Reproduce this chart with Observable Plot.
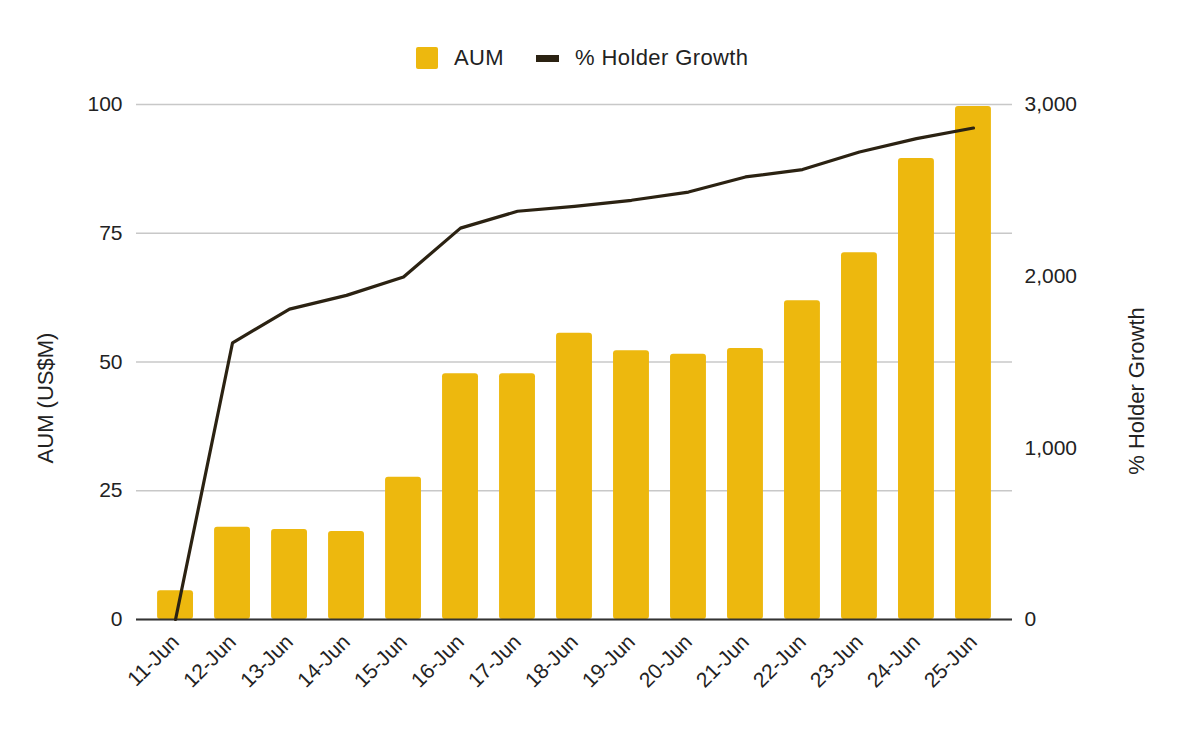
<!DOCTYPE html>
<html>
<head>
<meta charset="utf-8">
<script src="https://cdn.jsdelivr.net/npm/d3@7"></script>
<script src="https://cdn.jsdelivr.net/npm/@observablehq/plot@0.6"></script>
<style>
  html, body { margin: 0; padding: 0; background: #fff; }
  body { width: 1200px; height: 730px; overflow: hidden; font-family: "Liberation Sans", Arial, sans-serif; color: #222; }
  #legend { position: relative; height: 85px; }
  #legend .item { position: absolute; top: 45px; display: flex; align-items: center; font-size: 22px; letter-spacing: 0.4px; height: 26px; }
  #legend .sw-bar { width: 22px; height: 22px; border-radius: 2px; margin-right: 16px; }
  #legend .sw-line { width: 23px; height: 7px; margin-right: 16px; }
</style>
</head>
<body>
<div id="legend"></div>
<div id="chart"></div>
<script>
// Daily AUM and holder growth, 11–25 June
const dates = ["11-Jun", "12-Jun", "13-Jun", "14-Jun", "15-Jun", "16-Jun", "17-Jun", "18-Jun",
               "19-Jun", "20-Jun", "21-Jun", "22-Jun", "23-Jun", "24-Jun", "25-Jun"];
const aum = [5.6, 17.9, 17.5, 17.1, 27.6, 47.7, 47.7, 55.6, 52.2, 51.5, 52.6, 61.9, 71.2, 89.5, 99.6];
const holderGrowth = [0, 1612, 1808, 1888, 1995, 2280, 2378, 2407, 2442, 2490, 2578, 2621, 2723, 2801, 2863];

const leftTicks = [0, 25, 50, 75, 100];
const rightTicks = [0, 1000, 2000, 3000];

const seriesNames = ["AUM", "% Holder Growth"];
const axisTitles = ["AUM (US$M)", "% Holder Growth"];

const barColor = "#edb80e";
const lineColor = "#2b2212";

// right axis max maps onto the left axis max
const ratio = 3000 / 100;

const rows = dates.map((date, i) => ({date, aum: aum[i], holder: holderGrowth[i]}));

// legend
const legend = document.getElementById("legend");
legend.innerHTML = `
  <div class="item" style="left:416px"><div class="sw-bar" style="background:${barColor}"></div>${seriesNames[0]}</div>
  <div class="item" style="left:536px"><div class="sw-line" style="background:${lineColor}"></div>${seriesNames[1]}</div>`;

const chart = Plot.plot({
  width: 1200,
  height: 645,
  marginLeft: 136,
  marginRight: 188,
  marginTop: 19,
  marginBottom: 111,
  style: {fontFamily: "'Liberation Sans', Arial, sans-serif", fontSize: "21px", color: "#222", background: "#fff"},
  x: {type: "band", domain: dates, padding: 0.37, round: false, label: null},
  y: {domain: [0, 100], label: null},
  marks: [
    Plot.gridY(leftTicks, {stroke: "#c8c8c8", strokeOpacity: 1, strokeWidth: 1.3}),
    Plot.barY(rows, {x: "date", y: "aum", fill: barColor, rx: 3}),
    Plot.ruleY([0], {stroke: "#333", strokeWidth: 2}),
    Plot.lineY(rows, {x: "date", y: d => d.holder / ratio, stroke: lineColor, strokeWidth: 3.2, strokeLinejoin: "round"}),
    Plot.axisY(leftTicks, {anchor: "left", tickSize: 0, tickPadding: 14, label: null}),
    Plot.axisY(rightTicks.map(v => v / ratio), {
      anchor: "right", tickSize: 0, tickPadding: 12, label: null,
      tickFormat: v => d3.format(",")(Math.round(v * ratio))
    }),
    Plot.axisX({tickRotate: -45, tickSize: 0, tickPadding: 19, label: null}),
    Plot.text([axisTitles[0]], {text: d => d, frameAnchor: "left", textAnchor: "middle", rotate: -90, dx: -91, dy: 36, fontSize: 22, letterSpacing: 1.8}),
    Plot.text([axisTitles[1]], {text: d => d, frameAnchor: "right", textAnchor: "middle", rotate: -90, dx: 124, dy: 29, fontSize: 22})
  ]
});
document.getElementById("chart").append(chart);
</script>
</body>
</html>
